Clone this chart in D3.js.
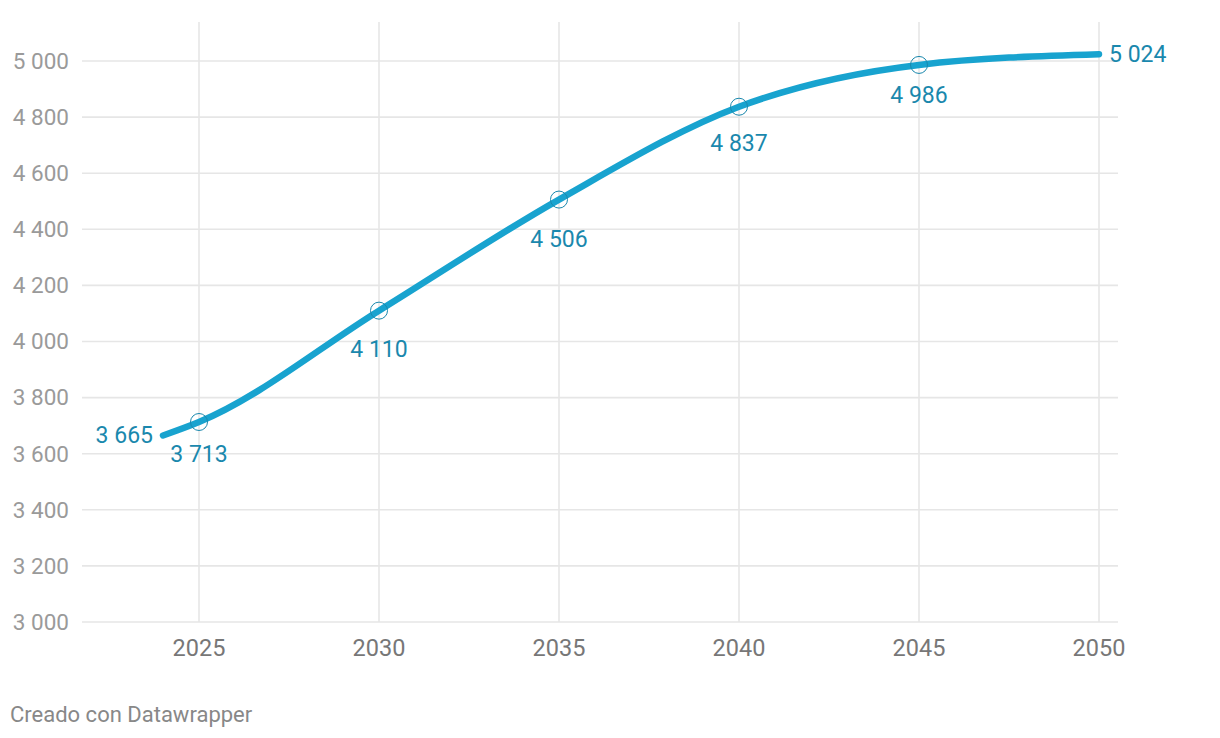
<!DOCTYPE html>
<html>
<head>
<meta charset="utf-8">
<script src="https://cdn.jsdelivr.net/npm/d3@7"></script>
<style>
  html, body { margin: 0; padding: 0; background: #fff; }
  svg { display: block; font-family: Roboto, "Noto Sans", sans-serif; }
</style>
</head>
<body>
<svg id="chart" width="1220" height="738"></svg>
<script>
const years = [2024, 2025, 2030, 2035, 2040, 2045, 2050];
const values = [3665, 3713, 4110, 4506, 4837, 4986, 5024];
const yTicks = [3000, 3200, 3400, 3600, 3800, 4000, 4200, 4400, 4600, 4800, 5000];
const xTicks = [2025, 2030, 2035, 2040, 2045, 2050];
const sourceText = "Creado con Datawrapper";
// label placement below points (pixel offset of baseline), style config
const labelOffsets = [0, 40, 46, 47, 44, 38, 0];

const data = years.map((y, i) => ({ year: y, value: values[i], off: labelOffsets[i] }));
const fmt = v => d3.format(",")(v).replace(/,/g, "\u00A0");

const svg = d3.select("#chart");
const x = d3.scaleLinear().domain([2024, 2050]).range([163, 1099]);
const y = d3.scaleLinear().domain([3000, 5000]).range([622, 61]);

const gridColor = "#e6e6e6";

svg.append("g").selectAll("line").data(yTicks).join("line")
  .attr("x1", 82).attr("x2", 1118)
  .attr("y1", d => y(d)).attr("y2", d => y(d))
  .attr("stroke", gridColor).attr("stroke-width", 1.6);

svg.append("g").selectAll("line").data(xTicks).join("line")
  .attr("x1", d => x(d)).attr("x2", d => x(d))
  .attr("y1", 22).attr("y2", y(3000))
  .attr("stroke", gridColor).attr("stroke-width", 1.6);

svg.append("g").selectAll("text").data(yTicks).join("text")
  .attr("x", 69).attr("y", d => y(d)).attr("dy", "0.35em")
  .attr("text-anchor", "end")
  .attr("font-size", 22.5).attr("fill", "#9a9a9a")
  .text(d => fmt(d));

svg.append("g").selectAll("text").data(xTicks).join("text")
  .attr("x", d => x(d)).attr("y", 656)
  .attr("text-anchor", "middle")
  .attr("font-size", 23.5).attr("fill", "#777")
  .text(d => d);

const line = d3.line().x(d => x(d.year)).y(d => y(d.value)).curve(d3.curveMonotoneX);
svg.append("path").datum(data)
  .attr("d", line)
  .attr("fill", "none")
  .attr("stroke", "#18a3cf")
  .attr("stroke-width", 6.5)
  .attr("stroke-linecap", "round")
  .attr("stroke-linejoin", "round");

const labelColor = "#1a88ad";
const last = data.length - 1;
const inner = data.slice(1, last);

svg.append("g").selectAll("circle").data(inner).join("circle")
  .attr("cx", d => x(d.year)).attr("cy", d => y(d.value))
  .attr("r", 8.5)
  .attr("fill", "none")
  .attr("stroke", labelColor).attr("stroke-width", 1);

svg.append("g").selectAll("text").data(data).join("text")
  .attr("x", (d, i) => i === 0 ? x(d.year) - 10 : (i === last ? x(d.year) + 10 : x(d.year)))
  .attr("y", (d, i) => (i === 0 || i === last) ? y(d.value) : y(d.value) + d.off)
  .attr("dy", (d, i) => (i === 0 || i === last) ? "0.33em" : 0)
  .attr("text-anchor", (d, i) => i === 0 ? "end" : (i === last ? "start" : "middle"))
  .attr("font-size", 23).attr("fill", labelColor)
  .text(d => fmt(d.value));

svg.append("text")
  .attr("x", 10).attr("y", 722)
  .attr("font-size", 22).attr("fill", "#888")
  .text(sourceText);
</script>
</body>
</html>
